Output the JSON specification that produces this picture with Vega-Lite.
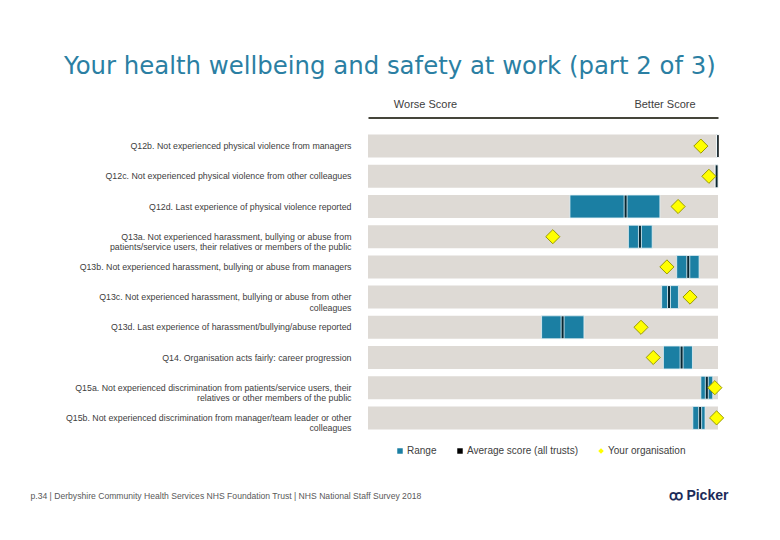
{
  "$schema": "https://vega.github.io/schema/vega-lite/v6.json",
  "width": 350,
  "height": 302,
  "autosize": {"type": "none"},
  "padding": {"left": 368, "top": 131, "right": 62, "bottom": 107},
  "background": "white",
  "config": {"view": {"stroke": null}, "font": "Liberation Sans"},
  "title": {
    "text": "Your health wellbeing and safety at work (part 2 of 3)",
    "anchor": "start",
    "frame": "group",
    "dx": -304,
    "offset": 19,
    "fontSize": 24.4,
    "font": "DejaVu Sans",
    "fontWeight": "normal",
    "color": "#2b7fa3"
  },
  "data": {
    "values": [
      {"label": "Q12b. Not experienced physical violence from managers", "lo": 99.6, "hi": 100, "avg": 100, "org": 95.1},
      {"label": "Q12c. Not experienced physical violence from other colleagues", "lo": 99.2, "hi": 100, "avg": 99.6, "org": 97.4},
      {"label": "Q12d. Last experience of physical violence reported", "lo": 57.7, "hi": 83.4, "avg": 73.6, "org": 88.6},
      {"label": "Q13a. Not experienced harassment, bullying or abuse from|patients/service users, their relatives or members of the public", "lo": 74.4, "hi": 81.2, "avg": 77.7, "org": 52.8},
      {"label": "Q13b. Not experienced harassment, bullying or abuse from managers", "lo": 88.2, "hi": 94.6, "avg": 91.5, "org": 85.4},
      {"label": "Q13c. Not experienced harassment, bullying or abuse from other|colleagues", "lo": 83.9, "hi": 88.7, "avg": 86.0, "org": 92.0},
      {"label": "Q13d. Last experience of harassment/bullying/abuse reported", "lo": 49.6, "hi": 61.7, "avg": 55.6, "org": 78.0},
      {"label": "Q14. Organisation acts fairly: career progression", "lo": 84.4, "hi": 92.7, "avg": 89.6, "org": 81.5},
      {"label": "Q15a. Not experienced discrimination from patients/service users, their|relatives or other members of the public", "lo": 95.1, "hi": 98.5, "avg": 96.8, "org": 99.1},
      {"label": "Q15b. Not experienced discrimination from manager/team leader or other|colleagues", "lo": 92.8, "hi": 96.3, "avg": 94.9, "org": 99.6}
    ]
  },
  "resolve": {"axis": {"x": "independent", "y": "independent"}},
  "layer": [
    {
      "mark": {"type": "bar", "color": "#dedad5"},
      "encoding": {
        "y": {
          "field": "label", "type": "nominal", "sort": null,
          "scale": {"paddingInner": 0.24, "paddingOuter": 0.12},
          "axis": {
            "orient": "left", "title": null, "domain": false, "ticks": false,
            "labelPadding": 17, "labelFontSize": 8.8, "labelColor": "#404040",
            "labelFont": "Liberation Sans", "labelLimit": 0, "labelLineHeight": 10.5,
            "labelExpr": "indexof(datum.label, '|') < 0 ? datum.label : [split(datum.label, '|')[0] + pad('', max(0, floor((length(split(datum.label, '|')[1]) - length(split(datum.label, '|')[0])) * 0.82)), '\u00a0'), split(datum.label, '|')[1] + pad('', max(0, floor((length(split(datum.label, '|')[0]) - length(split(datum.label, '|')[1])) * 0.82)), '\u00a0')]"
          }
        },
        "x": {
          "datum": 0, "type": "quantitative",
          "scale": {"domain": [0, 100], "nice": false, "zero": false},
          "axis": {
            "orient": "top", "title": null, "values": [16.3, 84.7],
            "labelExpr": "datum.value < 50 ? 'Worse Score' : 'Better Score'",
            "grid": false, "ticks": false, "domain": true,
            "domainColor": "#45453a", "domainWidth": 2, "offset": 13.5,
            "labelPadding": 8, "labelFontSize": 11, "labelColor": "#404040",
            "labelFont": "Liberation Sans", "labelFlush": false
          }
        },
        "x2": {"datum": 100}
      }
    },
    {
      "mark": {"type": "bar", "stroke": "#e6f2f6", "strokeWidth": 0.8},
      "encoding": {
        "y": {"field": "label", "type": "nominal", "sort": null, "axis": null},
        "x": {
          "field": "lo", "type": "quantitative",
          "axis": {
            "orient": "bottom", "labels": false, "ticks": false, "domain": false, "grid": false,
            "title": "p.34 | Derbyshire Community Health Services NHS Foundation Trust | NHS National Staff Survey 2018",
            "titleX": -338, "titleY": 62, "titleAlign": "left", "titleAnchor": "start",
            "titleBaseline": "middle", "titleFontSize": 8.6, "titleFontWeight": "normal",
            "titleColor": "#595959", "titleFont": "Liberation Sans"
          }
        },
        "x2": {"field": "hi"},
        "color": {
          "datum": "Range", "type": "nominal",
          "scale": {
            "domain": ["Range", "Average score (all trusts)", "Your organisation"],
            "range": ["#1b7fa3", "#000000", "#ffff00"]
          },
          "legend": {
            "title": null, "orient": "none", "direction": "horizontal",
            "legendX": 27, "legendY": 315, "symbolSize": 30,
            "labelFontSize": 10, "labelColor": "#404040", "labelFont": "Liberation Sans",
            "labelOffset": 2, "columnPadding": 18, "symbolStrokeWidth": 0
          }
        }
      }
    },
    {
      "mark": {"type": "tick", "thickness": 3, "stroke": "white", "strokeWidth": 1, "size": 23},
      "encoding": {
        "y": {"field": "label", "type": "nominal", "sort": null, "axis": null},
        "x": {"field": "avg", "type": "quantitative", "axis": null},
        "color": {"datum": "Average score (all trusts)", "type": "nominal"}
      }
    },
    {
      "mark": {"type": "point", "filled": true, "stroke": "#9a9a00", "strokeWidth": 1, "size": 200, "opacity": 1},
      "encoding": {
        "y": {
          "field": "label", "type": "nominal", "sort": null,
          "axis": {
            "orient": "right", "labels": false, "ticks": false, "domain": false, "grid": false,
            "title": "ꝏ Picker", "titleAngle": 0, "titleX": -50, "titleY": 364,
            "titleAlign": "left", "titleBaseline": "middle", "titleFontSize": 14,
            "titleFontWeight": "bold", "titleColor": "#1c2b59", "titleFont": "Liberation Sans"
          }
        },
        "x": {"field": "org", "type": "quantitative", "axis": null},
        "color": {"datum": "Your organisation", "type": "nominal"},
        "shape": {
          "datum": "Your organisation", "type": "nominal",
          "scale": {
            "domain": ["Range", "Average score (all trusts)", "Your organisation"],
            "range": ["square", "square", "diamond"]
          },
          "legend": {
            "title": null, "orient": "none", "direction": "horizontal",
            "legendX": 27, "legendY": 315, "symbolSize": 30,
            "labelFontSize": 10, "labelColor": "#404040", "labelFont": "Liberation Sans",
            "labelOffset": 2, "columnPadding": 18, "symbolStrokeWidth": 0
          }
        }
      }
    }
  ]
}
